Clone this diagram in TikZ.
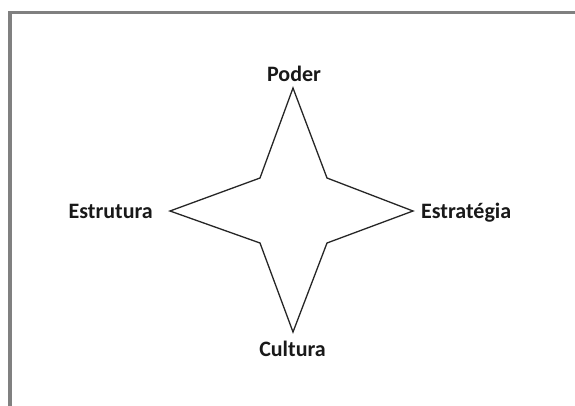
\documentclass[tikz,border=0pt]{standalone}
\usepackage{fontspec}
\setmainfont{Carlito}
\begin{document}
\begin{tikzpicture}[x=1pt,y=-1pt,
  lbl/.style={font=\bfseries\fontsize{22}{26}\selectfont, inner sep=0pt, text=black!90},
  starline/.style={draw=black!85, line width=1.3pt, line join=miter},
  frameline/.style={draw={rgb,255:red,128;green,128;blue,128}, line width=3.5pt}]
\useasboundingbox (0,0) rectangle (575,405);
\fill[white] (0,0) rectangle (575,405);
\draw[frameline] (10,406) -- (10,12.5) -- (576,12.5);
\coordinate (T) at (293,88);
\coordinate (NE) at (327,178);
\coordinate (R) at (413,211);
\coordinate (SE) at (327,243);
\coordinate (B) at (293,332);
\coordinate (SW) at (260,243);
\coordinate (L) at (170,211);
\coordinate (NW) at (260,178);
\draw[starline] (T) -- (NE) -- (R) -- (SE) -- (B) -- (SW) -- (L) -- (NW) -- cycle;
\node[lbl, anchor=base] (poder) at (294,81.5) {Poder};
\node[lbl, anchor=base] (cultura) at (292.5,356) {Cultura};
\node[lbl, anchor=base east] (estrutura) at (153,218.5) {Estrutura};
\node[lbl, anchor=base west] (estrategia) at (421,218.5) {Estratégia};
\end{tikzpicture}
\end{document}
